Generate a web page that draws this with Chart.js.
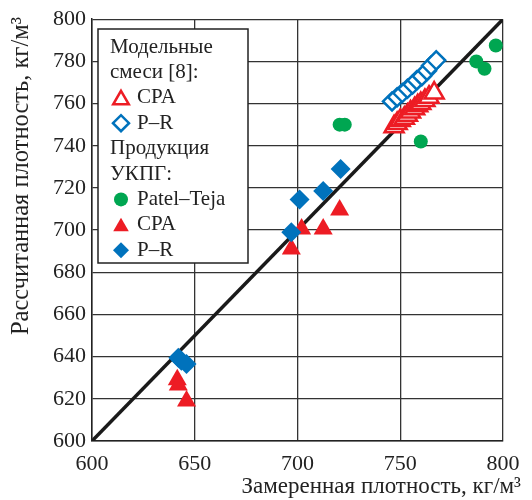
<!DOCTYPE html>
<html>
<head>
<meta charset="utf-8">
<script src="https://cdn.jsdelivr.net/npm/chart.js@4/dist/chart.umd.min.js"></script>
<style>
html,body{margin:0;padding:0;background:#fff;}
#wrap{width:532px;height:500px;position:relative;}
</style>
</head>
<body>
<div id="wrap"><canvas id="c" width="532" height="500"></canvas></div>
<script>
// Axis ticks
const xTicks = [600, 650, 700, 750, 800];
const yTicks = [600, 620, 640, 660, 680, 700, 720, 740, 760, 780, 800];
const xTitle = 'Замеренная плотность, кг/м³';
const yTitle = 'Рассчитанная плотность, кг/м³';

// Model mixtures [8]
const cpaModelX = [747, 748.5, 750, 752, 753.5, 755, 757, 758.5, 760, 762, 764, 766.5];
const cpaModelY = [749, 750.5, 752, 753, 754.5, 756, 757.5, 759, 760, 761.5, 763, 765];
const prModelX = [746, 748.5, 751, 753.5, 756, 758, 760.5, 763, 765, 767.5];
const prModelY = [761, 763, 765, 767, 769, 771, 773, 775.5, 778, 780.5];

// UKPG products
const ptX = [796.5, 787, 791, 760, 720.5, 723];
const ptY = [787.5, 780, 776.5, 742, 750, 750];
const cpaProdX = [720.5, 712.5, 702, 697, 641.5, 642, 646];
const cpaProdY = [709.5, 700.5, 700.5, 691, 629, 626.5, 619];
const prProdX = [721, 712.5, 701, 697, 642, 643.5, 646];
const prProdY = [729, 718.5, 714.5, 699, 639.5, 638, 636.5];

// Diagonal
const diagX = [600, 800];
const diagY = [600, 800];

const RED = '#ed1c24', BLUE = '#0072bc', GREEN = '#00a651';
const FONT = "'Liberation Serif', 'DejaVu Serif', serif";

function pts(xs, ys){ return xs.map((x,i)=>({x:x, y:ys[i]})); }

const legendItems = [
  {text:'Модельные', head:true},
  {text:'смеси [8]:', head:true},
  {text:'CPA', style:'triangle', fill:'#fff', stroke:RED, r:9, bw:2.5},
  {text:'P–R', style:'rectRot', fill:'#fff', stroke:BLUE, r:8, bw:2.5},
  {text:'Продукция', head:true},
  {text:'УКПГ:', head:true},
  {text:'Patel–Teja', style:'circle', fill:GREEN, stroke:GREEN, r:7, bw:0},
  {text:'CPA', style:'triangle', fill:RED, stroke:RED, r:9, bw:0},
  {text:'P–R', style:'rectRot', fill:BLUE, stroke:BLUE, r:8, bw:0}
];

const customPlugin = {
  id: 'custom',
  beforeDraw(chart){
    const ctx = chart.ctx;
    ctx.save();
    ctx.fillStyle = '#fff';
    ctx.fillRect(0,0,chart.width,chart.height);
    ctx.restore();
  },
  afterDraw(chart){
    const ctx = chart.ctx;
    ctx.save();
    // Legend box
    const bx = 98, by = 29, bw = 150, bh = 234;
    ctx.fillStyle = '#fff';
    ctx.fillRect(bx, by, bw, bh);
    ctx.strokeStyle = '#222';
    ctx.lineWidth = 1.5;
    ctx.strokeRect(bx, by, bw, bh);
    ctx.font = '21px ' + FONT;
    ctx.textBaseline = 'middle';
    ctx.textAlign = 'left';
    legendItems.forEach((it, i) => {
      const y = 47 + i * 25.4;
      ctx.fillStyle = '#222';
      if (it.head) {
        ctx.fillText(it.text, 110, y);
      } else {
        ctx.fillText(it.text, 137, y);
        ctx.fillStyle = it.fill;
        ctx.strokeStyle = it.stroke;
        ctx.lineWidth = it.bw;
        const yy = it.style === 'triangle' ? y + 2 : y;
        Chart.helpers.drawPoint(ctx, {pointStyle: it.style, radius: it.r, borderWidth: it.bw, rotation: 0}, 121, yy);
      }
    });
    // Axis titles
    ctx.fillStyle = '#222';
    ctx.font = '23px ' + FONT;
    ctx.textAlign = 'right';
    ctx.textBaseline = 'middle';
    ctx.fillText(xTitle, 521, 487);
    ctx.font = '24.5px ' + FONT;
    ctx.translate(22, 176);
    ctx.rotate(-Math.PI/2);
    ctx.textAlign = 'center';
    ctx.fillText(yTitle, 0, 0);
    ctx.restore();
  }
};

new Chart(document.getElementById('c'), {
  type: 'scatter',
  data: {
    datasets: [
      {label:'diag', type:'line', data: pts(diagX, diagY), borderColor:'#1a1a1a', borderWidth:3.5, pointRadius:0, fill:false, order:10},
      {label:'CPA model', data: pts(cpaModelX, cpaModelY), pointStyle:'triangle', pointRadius:11, backgroundColor:'#fff', borderColor:RED, borderWidth:2.5, order:5},
      {label:'P-R model', data: pts(prModelX, prModelY), pointStyle:'rectRot', pointRadius:9, backgroundColor:'#fff', borderColor:BLUE, borderWidth:2.5, order:4},
      {label:'Patel-Teja', data: pts(ptX, ptY), pointStyle:'circle', pointRadius:7, backgroundColor:GREEN, borderColor:GREEN, borderWidth:0, order:3},
      {label:'CPA', data: pts(cpaProdX, cpaProdY), pointStyle:'triangle', pointRadius:11, backgroundColor:RED, borderColor:RED, borderWidth:0, order:2},
      {label:'P-R', data: pts(prProdX, prProdY), pointStyle:'rectRot', pointRadius:10, backgroundColor:BLUE, borderColor:BLUE, borderWidth:0, order:1}
    ]
  },
  options: {
    responsive: false,
    animation: false,
    events: [],
    layout: {padding: {top: 19, right: 29, left: 0, bottom: 0}},
    plugins: {legend: {display:false}, tooltip: {enabled:false}},
    scales: {
      x: {
        type: 'linear', min: 600, max: 800,
        afterBuildTicks(s){ s.ticks = xTicks.map(v=>({value:v})); },
        afterFit(s){ s.height = 59; },
        ticks: {font:{family:FONT, size:22}, color:'#222', padding:10},
        grid: {color:'#333', lineWidth:1.3, drawTicks:false},
        border: {color:'#222', width:1.5}
      },
      y: {
        type: 'linear', min: 600, max: 800,
        afterBuildTicks(s){ s.ticks = yTicks.map(v=>({value:v})); },
        afterFit(s){ s.width = 92; },
        ticks: {font:{family:FONT, size:22}, color:'#222', padding:6},
        grid: {color:'#333', lineWidth:1.3, drawTicks:false},
        border: {color:'#222', width:1.5}
      }
    }
  },
  plugins: [customPlugin]
});
</script>
</body>
</html>
